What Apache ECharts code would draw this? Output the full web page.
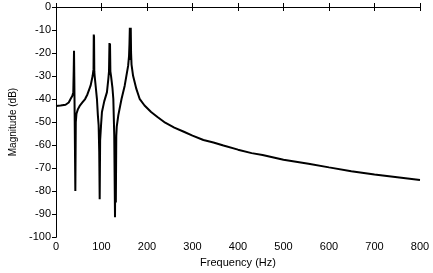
<!DOCTYPE html>
<html>
<head>
<meta charset="utf-8">
<script src="https://cdn.jsdelivr.net/npm/echarts@6/dist/echarts.min.js"></script>
<style>
  html, body { margin: 0; padding: 0; background: #fff; }
  #chart { width: 433px; height: 273px; }
</style>
</head>
<body>
<div id="chart"></div>
<script>
// frequency response
var freqHz = [0, 10, 21, 28, 32, 36, 38, 39, 39.6, 40.2, 41, 42.5, 43.5, 45, 48, 52, 58, 64, 69, 76, 80.5, 82.5, 83, 83.6, 84.2, 85, 87, 90, 92, 93.7, 95, 96, 97, 99, 101, 106, 112, 115, 116.5, 117.5, 118, 118.7, 119.5, 121, 124, 126, 128, 129.7, 130.5, 131.5, 132.5, 133.5, 137, 144, 151, 158.5, 160.5, 161.5, 162.3, 163.3, 164.3, 165, 166, 169.4, 176.6, 183.8, 194.6, 209, 223, 240, 260, 281, 300, 324, 346, 368, 400, 430, 454, 500, 555, 600, 649, 700, 750, 800];
var magDb = [-43, -42.8, -42.5, -41.5, -40, -38.6, -37, -27, -19, -30, -46.6, -80, -50, -46.4, -44.5, -43, -41.5, -40, -38, -34.2, -30, -27, -12, -13, -28, -30, -34, -40, -47, -51.4, -62.8, -83.6, -58, -51.4, -45.6, -41, -37, -31.3, -28, -15.6, -22, -16, -28, -30, -35, -40, -55.7, -91.4, -60, -85, -56, -52, -47, -40, -34.2, -25.6, -21.3, -16, -9, -23, -9, -20, -25, -29.9, -35.6, -39.9, -42.8, -45.6, -47.8, -50.3, -52.4, -54.2, -55.9, -57.8, -58.9, -60.2, -62, -63.5, -64.3, -66.4, -68.1, -69.7, -71.4, -72.8, -74, -75.2];

var xTicks = [0, 100, 200, 300, 400, 500, 600, 700, 800];
var yTicks = [-100, -90, -80, -70, -60, -50, -40, -30, -20, -10, 0];

var points = freqHz.map(function (f, i) { return [f, magDb[i]]; });

var lblFont = { color: '#000', fontFamily: 'Liberation Sans', fontSize: 11 };

var chart = echarts.init(document.getElementById('chart'), null, { renderer: 'canvas' });

var boxAxis = function (extra) {
    return Object.assign({
        axisLine: { show: true, lineStyle: { color: '#000', width: 1 } },
        axisTick: { show: true, inside: true, length: 4, lineStyle: { color: '#000' } },
        splitLine: { show: false },
        axisLabel: { show: false }
    }, extra);
};

chart.setOption({
    animation: false,
    backgroundColor: '#fff',
    grid: { left: 50, right: 13, top: 7, bottom: 33 },
    xAxis: [
        boxAxis({
            type: 'value', min: xTicks[0], max: xTicks[xTicks.length - 1], interval: 100,
            position: 'bottom',
            name: 'Frequency (Hz)', nameLocation: 'middle', nameGap: 13,
            nameTextStyle: lblFont,
            axisLabel: Object.assign({ show: true, margin: 4 }, lblFont)
        }),
        boxAxis({
            type: 'value', min: xTicks[0], max: xTicks[xTicks.length - 1], interval: 100,
            position: 'top'
        })
    ],
    yAxis: [
        boxAxis({
            type: 'value', min: yTicks[0], max: yTicks[yTicks.length - 1], interval: 10,
            position: 'left',
            name: 'Magnitude (dB)', nameLocation: 'middle', nameGap: 38,
            nameTextStyle: Object.assign({}, lblFont, { fontSize: 10 }),
            axisTick: { show: true, inside: false, length: 3, lineStyle: { color: '#000' } },
            axisLabel: Object.assign({ show: true, margin: 5 }, lblFont)
        }),
        boxAxis({
            type: 'value', min: yTicks[0], max: yTicks[yTicks.length - 1], interval: 10,
            position: 'right'
        })
    ],
    series: [{
        type: 'line',
        data: points,
        showSymbol: false,
        lineStyle: { color: '#000', width: 2 },
        xAxisIndex: 0,
        yAxisIndex: 0
    }]
});
</script>
</body>
</html>
